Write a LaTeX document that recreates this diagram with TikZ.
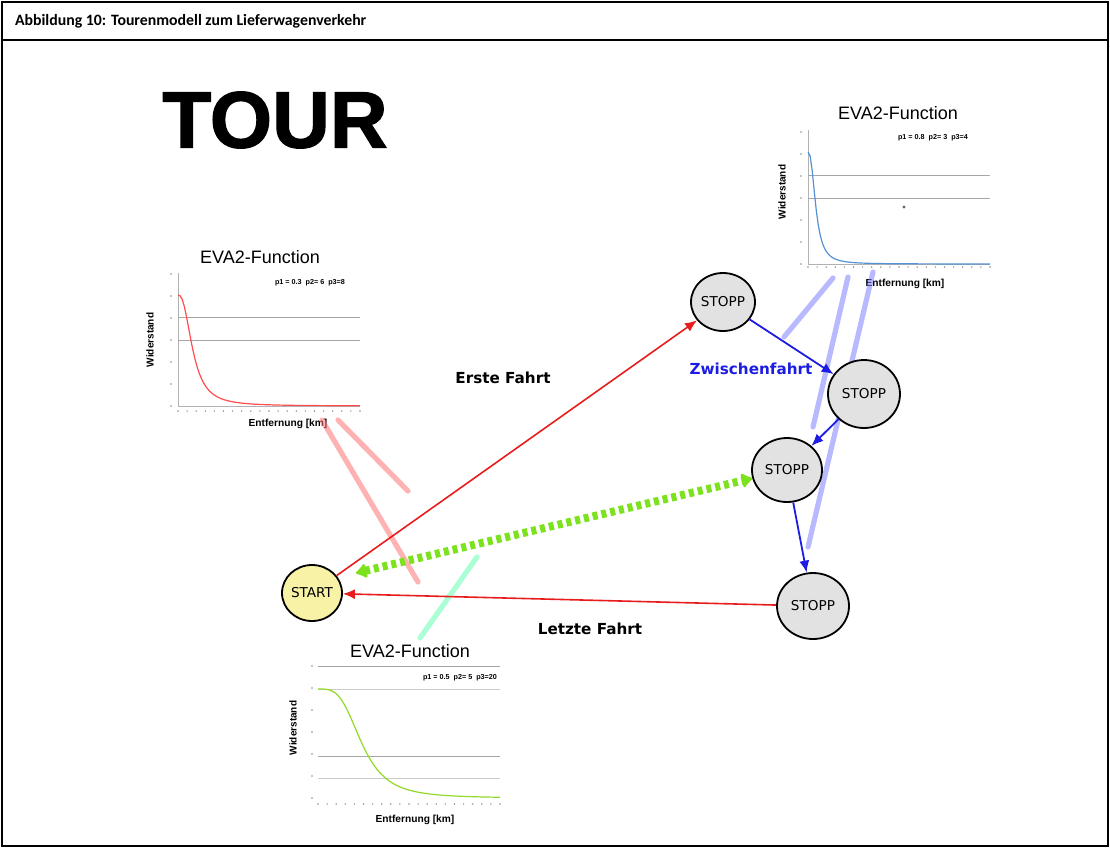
\documentclass[tikz,border=0pt]{standalone}
\usepackage{fontspec}
\setmainfont{DejaVu Sans}
\newfontfamily\kopffont{Carlito}
\newfontfamily\arialfont{Liberation Sans}
\newfontfamily\tourfont[BoldFeatures={FakeBold=1.6}]{Liberation Sans}
\usetikzlibrary{shapes.geometric,arrows.meta}

\definecolor{fahrtrot}{RGB}{232,28,28}
\definecolor{fahrtblau}{RGB}{28,28,226}
\definecolor{pfeilgruen}{RGB}{125,226,30}
\definecolor{startgelb}{RGB}{247,242,165}
\definecolor{stoppgrau}{RGB}{226,226,226}

\tikzset{
  ort/.style={ellipse, draw, line width=0.9pt, fill=stoppgrau, inner sep=0pt,
    minimum width=35pt, minimum height=32pt, font=\fontsize{6.8}{8}\selectfont},
  fahrt/.style={draw=fahrtrot, line width=0.8pt, -{Latex[length=6pt,width=5pt]}},
  zwischen/.style={draw=fahrtblau, line width=0.9pt, -{Latex[length=6pt,width=5pt]}},
  label/.style={font=\fontsize{7.6}{9}\selectfont\bfseries},
  achse/.style={draw=black!30, line width=0.4pt},
  raster/.style={draw=black!35, line width=0.5pt},
  hinweis/.style={line width=2.6pt, line cap=round, opacity=0.55},
}

\begin{document}
\begin{tikzpicture}[x=0.5pt,y=-0.5pt]
  \useasboundingbox (0,0) rectangle (1110,848);
  \draw[line width=1pt] (2,2) rectangle (1108,846);
  \draw[line width=1pt] (2,40) -- (1108,40);
  \node[anchor=west, font=\kopffont\fontsize{7.9}{9}\selectfont\bfseries] (kopf) at (8,21)
    {Abbildung 10: Tourenmodell zum Lieferwagenverkehr};

  \node[font=\tourfont\fontsize{40}{40}\selectfont\bfseries] (tour) at (275,120) {TOUR};

  % EVA2 links (rot)
  \pgfmathsetmacro{\xc}{178};
  \pgfmathsetmacro{\yc}{406};
  \draw[achse] (\xc, \yc-133) -- (\xc, \yc) -- (\xc+182, \yc);
  \draw[raster] (\xc, \yc-89) -- (\xc+182, \yc-89);
  \draw[raster] (\xc, \yc-66) -- (\xc+182, \yc-66);
  \foreach \i in {0,...,20}
    \fill[black!45] (\xc+\i*9.1, \yc+5) circle (0.8);
  \foreach \i in {0,...,6}
    \fill[black!45] (\xc-7, \yc-\i*22) circle (0.8);
  \draw[red!70, line width=0.6pt] plot[domain=0.1:182, samples=90]
    ({\xc+\x}, {\yc-111/(1+(\x/15)^2.5)});
  \node[font=\arialfont\fontsize{9}{10}\selectfont] (titel1) at (\xc+82, \yc-149) {EVA2-Function};
  \node[font=\arialfont\fontsize{3.6}{4}\selectfont\bfseries] at (\xc+132, \yc-123) {p1 = 0.3 \ p2= 6 \ p3=8};
  \node[rotate=90, font=\arialfont\fontsize{5}{6}\selectfont\bfseries] at (\xc-28, \yc-66) {Widerstand};
  \node[font=\arialfont\fontsize{5.1}{6}\selectfont\bfseries] (achse1) at (\xc+110, \yc+18) {Entfernung [km]};

  % EVA2 oben rechts (blau)
  \pgfmathsetmacro{\xc}{808};
  \pgfmathsetmacro{\yc}{264};
  \draw[achse] (\xc, \yc-134) -- (\xc, \yc) -- (\xc+182, \yc);
  \draw[raster] (\xc, \yc-89) -- (\xc+182, \yc-89);
  \draw[raster] (\xc, \yc-66) -- (\xc+182, \yc-66);
  \foreach \i in {0,...,20}
    \fill[black!45] (\xc+\i*9.1, \yc+3) circle (0.8);
  \foreach \i in {0,...,6}
    \fill[black!45] (\xc-7, \yc-\i*22) circle (0.8);
  \draw[cyan!55!blue!70, line width=0.6pt] plot[domain=0.1:182, samples=90]
    ({\xc+\x}, {\yc-112/(1+(\x/8)^2.5)});
  \fill[black!60] (\xc+96, \yc-57) circle (1.6);
  \node[font=\arialfont\fontsize{9}{10}\selectfont] (titel2) at (\xc+90, \yc-151) {EVA2-Function};
  \node[font=\arialfont\fontsize{3.6}{4}\selectfont\bfseries] at (\xc+125, \yc-126) {p1 = 0.8 \ p2= 3 \ p3=4};
  \node[rotate=90, font=\arialfont\fontsize{5}{6}\selectfont\bfseries] at (\xc-26, \yc-72) {Widerstand};
  \node[font=\arialfont\fontsize{5.1}{6}\selectfont\bfseries] (achse2) at (\xc+97, \yc+20) {Entfernung [km]};

  % EVA2 unten (gelbgruen)
  \pgfmathsetmacro{\xc}{318};
  \pgfmathsetmacro{\yc}{798};
  \draw[raster] (\xc, \yc-132) -- (\xc+182, \yc-132);
  \draw[raster, black!20] (\xc, \yc-109) -- (\xc+182, \yc-109);
  \draw[raster] (\xc, \yc-42) -- (\xc+182, \yc-42);
  \draw[raster, black!20] (\xc, \yc-20) -- (\xc+182, \yc-20);
  \foreach \i in {0,...,20}
    \fill[black!45] (\xc+\i*9.1, \yc+6) circle (0.8);
  \foreach \i in {0,...,6}
    \fill[black!45] (\xc-6, \yc-\i*22) circle (0.8);
  \draw[green!40!yellow!70!gray, line width=0.6pt] plot[domain=0.1:182, samples=90]
    ({\xc+\x}, {\yc-109/(1+(\x/44)^3.5)});
  \node[font=\arialfont\fontsize{9}{10}\selectfont] (titel3) at (\xc+92, \yc-147) {EVA2-Function};
  \node[font=\arialfont\fontsize{3.6}{4}\selectfont\bfseries] at (\xc+142, \yc-120) {p1 = 0.5 \ p2= 5 \ p3=20};
  \node[rotate=90, font=\arialfont\fontsize{5}{6}\selectfont\bfseries] at (\xc-25, \yc-70) {Widerstand};
  \node[font=\arialfont\fontsize{5.1}{6}\selectfont\bfseries] (achse3) at (\xc+97, \yc+22) {Entfernung [km]};

  % Hinweislinien
  \draw[hinweis, red!55] (322,420) -- (418,582);
  \draw[hinweis, red!55] (338,420) -- (408,491);
  \draw[hinweis, green!50!cyan!60] (477,557) -- (420,638);
  \draw[hinweis, blue!50] (833,278) -- (784,337);
  \draw[hinweis, blue!50] (848,277) -- (813,427);
  \draw[hinweis, blue!50] (873,272) -- (808,547);

  % Orte
  \node[ort, fill=startgelb, minimum width=30pt, minimum height=28pt] (start) at (312,593) {START};
  \node[ort, minimum width=32pt, minimum height=29pt] (stopp1) at (723,302) {STOPP};
  \node[ort, minimum width=36pt, minimum height=34pt] (stopp2) at (864,394) {STOPP};
  \node[ort] (stopp3) at (787,470) {STOPP};
  \node[ort, minimum width=36pt, minimum height=33pt] (stopp4) at (813,606) {STOPP};

  % Fahrten
  \draw[fahrt] (start) -- (stopp1);
  \draw[fahrt] (stopp4) -- (start);
  \draw[zwischen] (stopp1) -- (stopp2);
  \draw[zwischen] (stopp2) -- (stopp3);
  \draw[zwischen] (stopp3) -- (stopp4);
  \coordinate (gruenfuss) at ([xshift=22pt,yshift=10pt]start.center);
  \draw[draw=pfeilgruen, line width=4pt, dash pattern=on 2.5pt off 2pt,
    {Latex[length=6pt,width=9pt,round]}-{Latex[length=6pt,width=9pt,round]}]
    (gruenfuss) -- (stopp3);

  \node[label] (erste) at (503,378) {Erste Fahrt};
  \node[label, text=fahrtblau] (zwischenfahrt) at (751,369) {Zwischenfahrt};
  \node[label] (letzte) at (590,629) {Letzte Fahrt};
\end{tikzpicture}
\end{document}
